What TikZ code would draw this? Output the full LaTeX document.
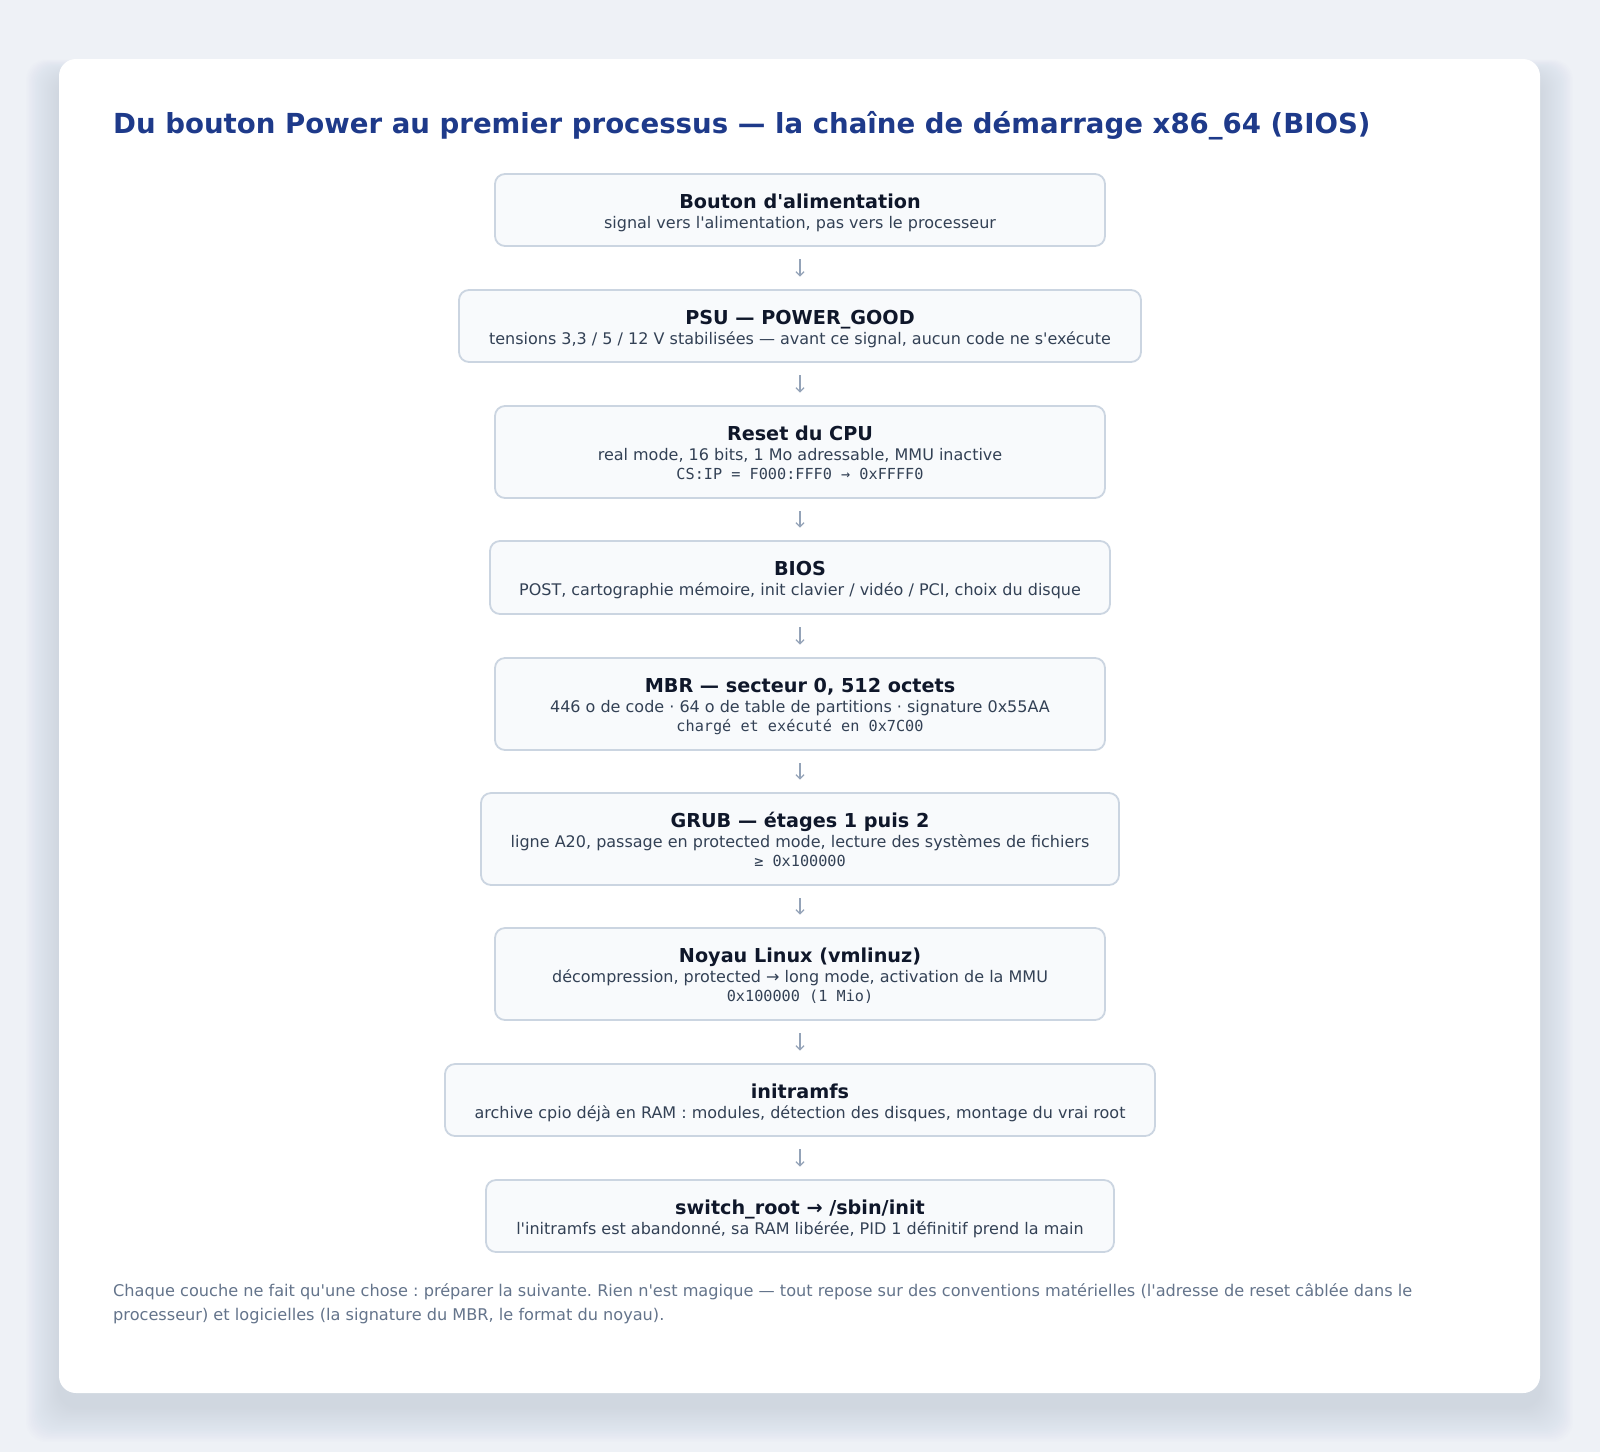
\documentclass[tikz,border=0pt]{standalone}
\usepackage{fontspec}
\setmainfont{DejaVu Sans}
\setmonofont{DejaVu Sans Mono}
\usetikzlibrary{arrows.meta}
\definecolor{pagebg}{HTML}{EEF1F6}
\definecolor{titleblue}{HTML}{1E3A8A}
\definecolor{boxfill}{HTML}{F8FAFC}
\definecolor{boxline}{HTML}{CBD5E1}
\definecolor{headtxt}{HTML}{0F172A}
\definecolor{subtxt}{HTML}{334155}
\definecolor{arrowc}{HTML}{94A3B8}
\definecolor{foottxt}{HTML}{64748B}
\definecolor{shadowc}{HTML}{8A94AD}
\newcommand{\boxhd}[1]{\rule{0pt}{21.5pt}{\fontsize{19.2}{20.2}\selectfont\bfseries\color{headtxt}#1}}
\newcommand{\boxsb}[1]{{\fontsize{16}{20.2}\selectfont\color{subtxt}#1}}
\newcommand{\boxmo}[1]{{\fontsize{15.2}{20.2}\selectfont\ttfamily\color{subtxt}#1}}
\newcommand{\boxend}{\rule[-5pt]{0pt}{5pt}}
\newcommand{\q}{\textquotesingle}
\tikzset{
  stepbox/.style={draw=boxline, line width=1.8pt, fill=boxfill, rounded corners=10pt,
    align=center, inner sep=0pt, minimum height=72pt,
    font=\fontsize{16}{20.2}\selectfont\frenchspacing},
  flow/.style={draw=arrowc, line width=1.3pt, shorten <=12.5pt, shorten >=12.5pt,
    -{Straight Barb[length=4pt,width=8pt,line width=1.3pt]}}
}
\begin{document}
\begin{tikzpicture}[x=1pt,y=-1pt]
\useasboundingbox (0,0) rectangle (1600,1452);
\fill[pagebg] (0,0) rectangle (1600,1452);
% shadow
\foreach \i in {1,...,22}{
  \fill[shadowc, opacity=0.012, rounded corners=20pt]
    ({59-1.5*\i},{59+18-0.8*\i}) rectangle ({1540+1.5*\i},{1393+14+1.6*\i});
}
\fill[white, rounded corners=17pt] (59,59) rectangle (1540,1393);
% title
\node[anchor=base west, inner sep=0pt, text=titleblue, font=\fontsize{27.6}{32}\selectfont\bfseries]
  (title) at (113,133) {Du bouton Power au premier processus — la chaîne de démarrage x86\_64 (BIOS)};
% boxes
\node[stepbox, minimum width=610pt] (b1) at (800,210)
  {\boxhd{Bouton d\q alimentation}\\\boxsb{signal vers l\q alimentation, pas vers le processeur}\boxend};
\node[stepbox, minimum width=682pt] (b2) at (800,326)
  {\boxhd{PSU — POWER\_GOOD}\\\boxsb{tensions 3,3 / 5 / 12 V stabilisées — avant ce signal, aucun code ne s\q exécute}\boxend};
\node[stepbox, minimum width=610pt, minimum height=92pt] (b3) at (800,452)
  {\boxhd{Reset du CPU}\\\boxsb{real mode, 16 bits, 1 Mo adressable, MMU inactive}\\[-1.2pt]\boxmo{CS:IP = F000:FFF0 → 0xFFFF0}\boxend};
\node[stepbox, minimum width=620pt, minimum height=73pt] (b4) at (800,577.5)
  {\boxhd{BIOS}\\\boxsb{POST, cartographie mémoire, init clavier / vidéo / PCI, choix du disque}\boxend};
\node[stepbox, minimum width=610pt, minimum height=92pt] (b5) at (800,704)
  {\boxhd{MBR — secteur 0, 512 octets}\\\boxsb{446 o de code · 64 o de table de partitions · signature 0x55AA}\\[-1.2pt]\boxmo{chargé et exécuté en 0x7C00}\boxend};
\node[stepbox, minimum width=638pt, minimum height=92pt] (b6) at (800,839)
  {\boxhd{GRUB — étages 1 puis 2}\\\boxsb{ligne A20, passage en protected mode, lecture des systèmes de fichiers}\\[-1.2pt]\boxmo{≥ 0x100000}\boxend};
\node[stepbox, minimum width=610pt, minimum height=92pt] (b7) at (800,974)
  {\boxhd{Noyau Linux (vmlinuz)}\\\boxsb{décompression, protected → long mode, activation de la MMU}\\[-1.2pt]\boxmo{0x100000 (1 Mio)}\boxend};
\node[stepbox, minimum width=710pt] (b8) at (800,1100)
  {\boxhd{initramfs}\\\boxsb{archive cpio déjà en RAM : modules, détection des disques, montage du vrai root}\boxend};
\node[stepbox, minimum width=628pt] (b9) at (800,1216)
  {\boxhd{switch\_root → /sbin/init}\\\boxsb{l\q initramfs est abandonné, sa RAM libérée, PID 1 définitif prend la main}\boxend};
% arrows
\foreach \a/\b in {b1/b2,b2/b3,b3/b4,b4/b5,b5/b6,b6/b7,b7/b8,b8/b9}{
  \draw[flow] (\a.south) -- (\b.north);
}
% footer
\node[anchor=base west, inner sep=0pt, align=left, text=foottxt, font=\fontsize{16.15}{23.5}\selectfont\frenchspacing]
  (foot) at (113,1320) {Chaque couche ne fait qu\q une chose : préparer la suivante. Rien n\q est magique — tout repose sur des conventions matérielles (l\q adresse de reset câblée dans le\\processeur) et logicielles (la signature du MBR, le format du noyau).};
\end{tikzpicture}
\end{document}
